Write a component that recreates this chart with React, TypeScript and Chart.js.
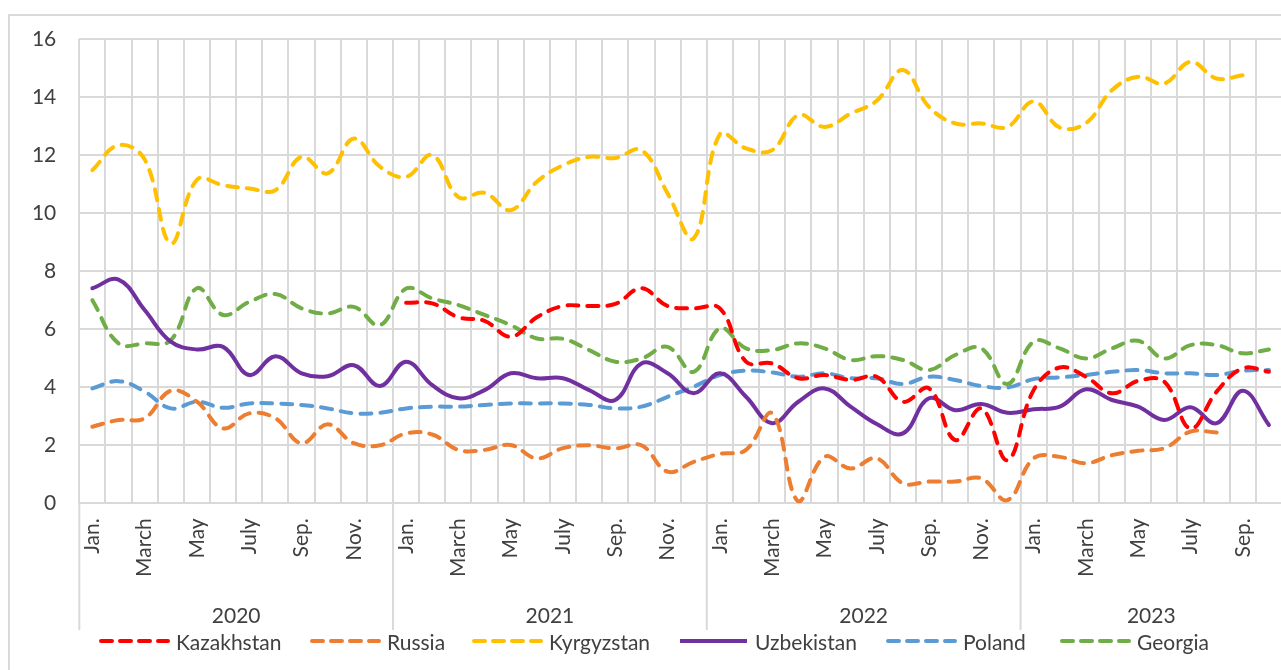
import React, { useEffect, useRef } from 'react';
import { Chart, registerables } from 'chart.js';

Chart.register(...registerables);

const years = ['2020', '2021', '2022', '2023'];
const monthsInYear = [12, 12, 12, 10];
const monthTickLabels = ['Jan.', '', 'March', '', 'May', '', 'July', '', 'Sep.', '', 'Nov.', ''];
const yTicks = [0, 2, 4, 6, 8, 10, 12, 14, 16];

const kazakhstan = [
  null, null, null, null, null, null, null, null, null, null, null, null,
  6.91, 6.89, 6.41, 6.29, 5.74, 6.41, 6.8, 6.8, 6.87, 7.41, 6.8, 6.72,
  6.72, 4.88, 4.82, 4.31, 4.42, 4.25, 4.36, 3.5, 3.96, 2.18, 3.27, 1.49,
  3.9, 4.68, 4.36, 3.79, 4.22, 4.19, 2.58, 3.85, 4.65, 4.53,
];
const russia = [
  2.64, 2.87, 2.93, 3.88, 3.5, 2.58, 3.1, 2.93, 2.07, 2.72, 2.07, 2.0,
  2.41, 2.37, 1.84, 1.84, 2.01, 1.55, 1.9, 2.0, 1.89, 2.0, 1.09, 1.43,
  1.7, 1.84, 3.1, 0.06, 1.6, 1.2, 1.55, 0.69, 0.75, 0.75, 0.86, 0.11,
  1.55, 1.6, 1.38, 1.66, 1.81, 1.9, 2.47, 2.44, null, null,
];
const kyrgyzstan = [
  11.48, 12.34, 11.85, 8.96, 11.15, 10.96, 10.85, 10.79, 11.94, 11.37, 12.57, 11.6,
  11.25, 12.0, 10.55, 10.7, 10.1, 11.08, 11.65, 11.94, 11.9, 12.17, 10.68, 9.13,
  12.72, 12.23, 12.17, 13.38, 12.97, 13.43, 13.87, 14.93, 13.66, 13.09, 13.09, 12.97,
  13.85, 12.95, 13.1, 14.24, 14.7, 14.47, 15.21, 14.64, 14.75, null,
];
const uzbekistan = [
  7.41, 7.71, 6.66, 5.57, 5.3, 5.39, 4.42, 5.07, 4.48, 4.38, 4.76, 4.04,
  4.88, 4.07, 3.62, 3.9, 4.48, 4.31, 4.31, 3.9, 3.56, 4.82, 4.48, 3.79,
  4.48, 3.67, 2.76, 3.5, 3.96, 3.33, 2.73, 2.41, 3.62, 3.21, 3.42, 3.12,
  3.24, 3.33, 3.93, 3.56, 3.33, 2.87, 3.31, 2.76, 3.88, 2.7,
];
const poland = [
  3.96, 4.21, 3.85, 3.27, 3.5, 3.29, 3.44, 3.44, 3.39, 3.27, 3.1, 3.12,
  3.27, 3.33, 3.33, 3.39, 3.44, 3.44, 3.44, 3.39, 3.27, 3.33, 3.67, 4.02,
  4.42, 4.57, 4.51, 4.36, 4.48, 4.31, 4.31, 4.11, 4.36, 4.25, 4.04, 3.99,
  4.28, 4.34, 4.42, 4.53, 4.59, 4.48, 4.48, 4.42, 4.57, 4.59,
];
const georgia = [
  7.0, 5.51, 5.51, 5.62, 7.41, 6.49, 6.94, 7.21, 6.72, 6.54, 6.77, 6.14,
  7.4, 7.06, 6.83, 6.49, 6.14, 5.68, 5.67, 5.28, 4.88, 4.99, 5.39, 4.53,
  6.03, 5.34, 5.28, 5.51, 5.34, 4.94, 5.07, 4.94, 4.59, 5.11, 5.34, 4.11,
  5.57, 5.34, 4.99, 5.34, 5.6, 4.99, 5.45, 5.45, 5.17, 5.3,
];

const seriesNames = ['Kazakhstan', 'Russia', 'Kyrgyzstan', 'Uzbekistan', 'Poland', 'Georgia'];
const seriesValues = [kazakhstan, russia, kyrgyzstan, uzbekistan, poland, georgia];
const seriesColors = ['#FF0000', '#ED7D31', '#FFC000', '#7030A0', '#5B9BD5', '#70AD47'];
const seriesDashed = [true, true, true, false, true, true];

const FONT = 'Lato, "Open Sans", sans-serif';
const FONT_SIZE = 21;
const TEXT = '#404040';
const GRID = '#d9d9d9';
const legendLeft = [99, 310, 472, 678, 886, 1060];

const categories: string[] = [];
years.forEach((y, yi) => {
  for (let m = 0; m < monthsInYear[yi]; m++) categories.push(`${y}-${m}`);
});

const yearPlugin = {
  id: 'yearRow',
  afterDraw(chart: any) {
    const { ctx, chartArea } = chart;
    const xs = chart.scales.x;
    const step = xs.getPixelForValue(1) - xs.getPixelForValue(0);
    ctx.save();
    let start = 0;
    years.forEach((y, yi) => {
      const left = xs.getPixelForValue(start) - step / 2;
      const right = Math.min(xs.getPixelForValue(start + monthsInYear[yi] - 1) + step / 2, chartArea.right);
      ctx.strokeStyle = GRID;
      ctx.lineWidth = 2;
      ctx.beginPath();
      ctx.moveTo(left, chartArea.bottom);
      ctx.lineTo(left, 630);
      ctx.stroke();
      ctx.fillStyle = TEXT;
      ctx.font = `${FONT_SIZE}px ${FONT}`;
      ctx.textAlign = 'center';
      ctx.textBaseline = 'middle';
      ctx.fillText(y, (left + right) / 2, 616);
      start += monthsInYear[yi];
    });
    ctx.restore();
  },
};

function LegendSample({ color, dashed }: { color: string; dashed: boolean }) {
  return (
    <svg width={71} height={10} style={{ display: 'block' }}>
      <line
        x1={2}
        y1={5}
        x2={69}
        y2={5}
        stroke={color}
        strokeWidth={4}
        strokeLinecap={dashed ? 'round' : 'butt'}
        strokeDasharray={dashed ? '11 8' : undefined}
      />
    </svg>
  );
}

export default function App() {
  const canvasRef = useRef<HTMLCanvasElement | null>(null);

  useEffect(() => {
    const canvas = canvasRef.current;
    if (!canvas) return;
    const chart = new Chart(canvas, {
      type: 'line',
      data: {
        labels: categories,
        datasets: seriesNames.map((name, i) => ({
          label: name,
          data: seriesValues[i],
          borderColor: seriesColors[i],
          backgroundColor: seriesColors[i],
          borderWidth: 4,
          borderDash: seriesDashed[i] ? [11, 9] : [],
          borderCapStyle: 'round',
          borderJoinStyle: 'round',
          pointRadius: 0,
          pointHoverRadius: 0,
          tension: 0.4,
          fill: false,
          spanGaps: false,
        })),
      },
      options: {
        responsive: false,
        animation: false,
        devicePixelRatio: 1,
        layout: { padding: { top: 39, left: 0, right: 0, bottom: 0 } },
        plugins: {
          legend: { display: false },
          tooltip: { enabled: false },
        },
        scales: {
          x: {
            type: 'category',
            offset: true,
            grid: { offset: true, color: GRID, lineWidth: 2, drawTicks: false },
            border: { display: true, color: GRID, width: 2 },
            ticks: {
              autoSkip: false,
              maxRotation: 90,
              minRotation: 90,
              padding: 15,
              color: TEXT,
              font: { family: FONT, size: FONT_SIZE },
              callback: (_v: any, i: number) => monthTickLabels[i % 12],
            },
            afterFit: (s: any) => {
              s.height = 166.7;
              s.paddingLeft = 0;
              s.paddingRight = 0;
            },
          },
          y: {
            min: 0,
            max: 16,
            afterBuildTicks: (s: any) => {
              s.ticks = yTicks.map((v) => ({ value: v }));
            },
            grid: { color: GRID, lineWidth: 2, drawTicks: false },
            border: { display: false },
            ticks: {
              padding: 23,
              color: TEXT,
              font: { family: FONT, size: FONT_SIZE },
            },
            afterFit: (s: any) => {
              s.width = 79.3;
            },
          },
        },
      },
      plugins: [yearPlugin],
    });
    return () => chart.destroy();
  }, []);

  return (
    <div style={{ position: 'fixed', left: 0, top: 0, width: 1281, height: 670, overflow: 'hidden', background: '#fff' }}>
      <div
        style={{
          position: 'absolute',
          left: 8,
          top: 14,
          width: 1320,
          height: 720,
          border: `2px solid ${GRID}`,
          boxSizing: 'border-box',
        }}
      />
      <canvas
        ref={canvasRef}
        width={1282}
        height={670}
        style={{ position: 'absolute', left: 0, top: 0, width: 1282, height: 670 }}
      />
      {seriesNames.map((name, i) => (
        <div
          key={name}
          style={{
            position: 'absolute',
            left: legendLeft[i],
            top: 628,
            height: 26,
            display: 'flex',
            alignItems: 'center',
            gap: 6,
            fontFamily: FONT,
            fontSize: FONT_SIZE,
            color: TEXT,
            whiteSpace: 'nowrap',
          }}
        >
          <LegendSample color={seriesColors[i]} dashed={seriesDashed[i]} />
          <span>{name}</span>
        </div>
      ))}
    </div>
  );
}
